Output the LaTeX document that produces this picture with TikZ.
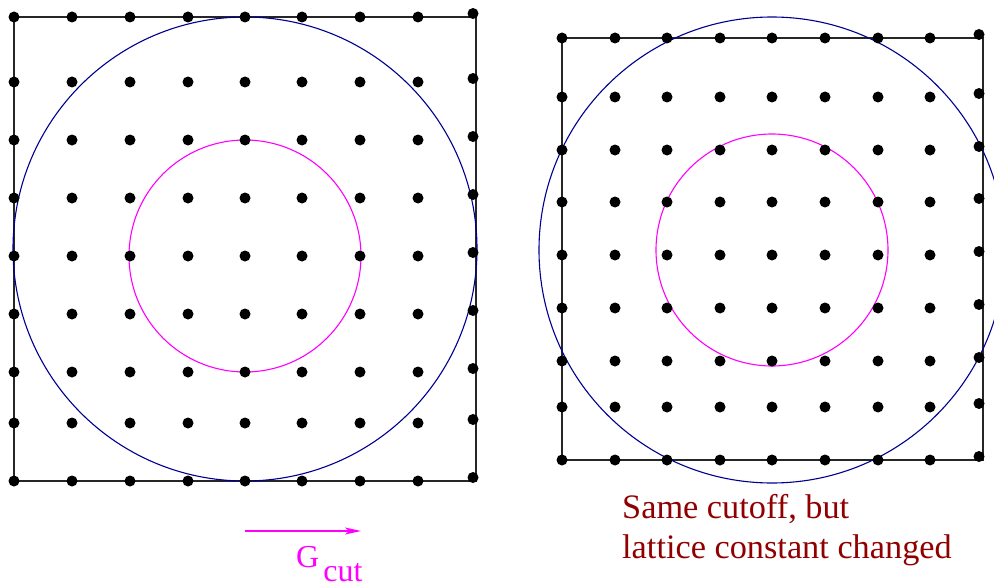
\documentclass[tikz,border=0pt]{standalone}
\usepackage{fontspec}
\setmainfont{Liberation Serif}
\usetikzlibrary{arrows.meta}
\definecolor{cutmag}{RGB}{255,0,255}
\definecolor{shellblue}{RGB}{0,0,144}
\definecolor{notered}{RGB}{144,0,0}
\begin{document}
\begin{tikzpicture}[x=1pt,y=-1pt,
  latdot/.style={fill=black},
  frame/.style={draw=black!85, line width=1.5pt},
  outer/.style={draw=shellblue, line width=1.1pt},
  inner/.style={draw=cutmag, line width=1.1pt},
  lbl/.style={anchor=base west, inner sep=0pt}]
\useasboundingbox (0,0) rectangle (994,586);
% frames
\draw[frame] (14,17) rectangle (476,481);
\draw[frame] (562,38) rectangle (983,460);
% circles
\draw[outer] (245,249) circle (232);
\draw[inner] (245,256) circle (116);
\draw[outer] (772,250) circle (233);
\draw[inner] (772,250) circle (116);
% left lattice
\foreach \x/\o in {14/0,72/0,130/0,188/0,245/0,302/0,360/0,418/0,473/-3.5}
  \foreach \y in {17,82,140,198,256,314,372,423,481}
    \fill[latdot] (\x,{\y+(\o)}) circle (5.5);
% right lattice
\foreach \x/\o in {562/0,615/0,667/0,720/0,772/0,825/0,878/0,930/0,979/-3.5}
  \foreach \y in {38,97,150,202,255,308,361,407,460}
    \fill[latdot] (\x,{\y+(\o)}) circle (5.5);
% arrow and label
\coordinate (a0) at (245,531);
\coordinate (a1) at (361,531);
\draw[cutmag, line width=1.1pt, -{Stealth[length=16pt,width=7pt,inset=4pt]}] (a0) -- (a1);
\node[lbl, text=cutmag, font=\fontsize{32}{38}\selectfont] (gcut) at (296,567) {G\hspace{4pt}\raisebox{-14pt}{cut}};
\node[lbl, text=notered, font=\fontsize{34.3}{40}\selectfont] (note1) at (622,518) {Same cutoff, but};
\node[lbl, text=notered, font=\fontsize{34.3}{40}\selectfont] (note2) at (622,558) {lattice constant changed};
\end{tikzpicture}
\end{document}
